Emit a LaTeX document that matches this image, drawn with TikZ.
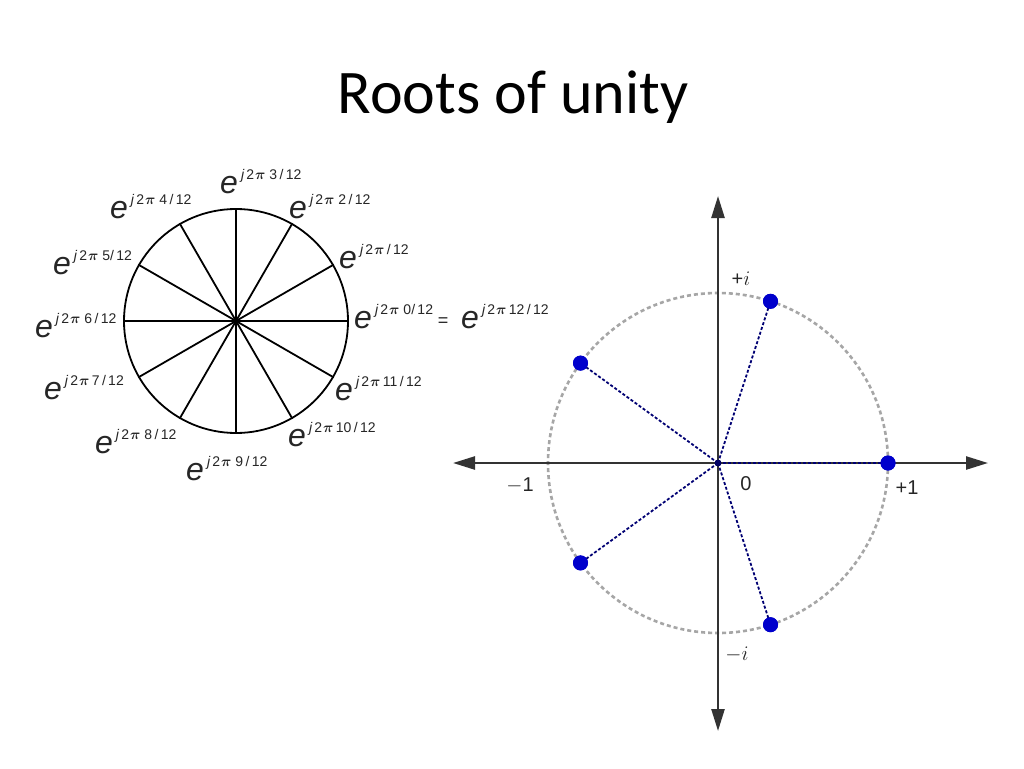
\documentclass[tikz,border=0pt]{standalone}
\usepackage{fontspec}
\setmainfont{Liberation Sans}
\newfontfamily\titlefont{Carlito}
\usetikzlibrary{arrows.meta}
\newcommand{\ejl}[1]{{\fontsize{32}{32}\selectfont\textit{e}}\kern3pt\raisebox{14pt}{\fontsize{14}{14}\selectfont\textit{j}\kern2pt 2\kern1pt$\boldsymbol{\pi}$#1}}
\usepackage{amsmath}
\begin{document}
\begin{tikzpicture}[x=1pt,y=-1pt,
  lbl/.style={inner sep=0pt,anchor=base west,text=black!85},
  wheel/.style={draw=black,line width=1.8pt},
  axis/.style={draw=black!80,line width=2.4pt,-{Triangle[length=22pt,width=13pt]}},
  unitc/.style={draw=black!35,line width=2.6pt,dash pattern=on 4pt off 3pt},
  spoke/.style={draw=blue!45!black,line width=1.8pt,dash pattern=on 3pt off 2pt},
  root/.style={circle,fill=blue!80!black,inner sep=0pt,minimum size=15pt},
  axl/.style={inner sep=0pt,font=\fontsize{20}{20}\selectfont,text=black!85}]
\useasboundingbox[fill=white] (0,0) rectangle (1024,768);
% title
\node[inner sep=0pt,font=\titlefont\fontsize{62}{62}\selectfont] (title) at (513,97) {Roots of unity};
% left wheel
\node[circle,wheel,minimum size=224pt,inner sep=0pt] (lc) at (236,321) {};
\foreach \a in {0,30,...,330}{\draw[wheel] (lc.center) -- (lc.\a);}
\fill (lc.center) circle (2.5pt);
% wheel labels
\node[lbl] (l3) at (220,193) {\ejl{\ 3\,/\,12}};
\node[lbl] (l4) at (110,218) {\ejl{\ 4\,/\,12}};
\node[lbl] (l2) at (289,218) {\ejl{\ 2\,/\,12}};
\node[lbl] (l1) at (339,268) {\ejl{\,/\,12}};
\node[lbl] (l5) at (53,274) {\ejl{\ 5/\,12}};
\node[lbl] (l0) at (354,328) {\ejl{\ 0/\,12}};
\node[inner sep=0pt,font=\fontsize{18}{18}\selectfont,text=black!85] (eq) at (443,322) {=};
\node[lbl] (l12) at (461,328) {\ejl{\,12\,/\,12}};
\node[lbl] (l6) at (35,337) {\ejl{\ 6\,/\,12}};
\node[lbl] (l7) at (44,399) {\ejl{\,7\,/\,12}};
\node[lbl] (l11) at (335,400) {\ejl{\,11\,/\,12}};
\node[lbl] (l10) at (288,446) {\ejl{\,10\,/\,12}};
\node[lbl] (l8) at (95,453) {\ejl{\ 8\,/\,12}};
\node[lbl] (l9) at (186,480) {\ejl{\ 9\,/\,12}};
% right diagram
\coordinate (O) at (718,463);
\coordinate (xl) at (453,463);
\coordinate (xr) at (988,463);
\coordinate (yt) at (718,196);
\coordinate (yb) at (718,731);
\draw[unitc] (O) circle (170);
\draw[axis] (O) -- (xr);
\draw[axis] (O) -- (xl);
\draw[axis] (O) -- (yt);
\draw[axis] (O) -- (yb);
\node[root] (p0) at (888,463) {};
\node[root] (p1) at (770.5,301.3) {};
\node[root] (p2) at (580.5,363.1) {};
\node[root] (p3) at (580.5,562.9) {};
\node[root] (p4) at (770.5,624.7) {};
\foreach \p in {p0,p1,p2,p3,p4}{\draw[spoke] (O) -- (\p.center);}
\fill[blue!40!black] (O) circle (3.5pt);
\foreach \p in {p0,p1,p2,p3,p4}{\fill[blue!80!black] (\p) circle (7.5pt);}
% axis labels
\node[axl] (pi) at (741,279) {+$i$};
\node[axl] (p1l) at (907,488) {+1};
\node[axl] (zero) at (746,484) {0};
\node[axl] (m1) at (520,485) {$-$1};
\node[axl] (mi) at (737,655) {$-i$};
\end{tikzpicture}
\end{document}
